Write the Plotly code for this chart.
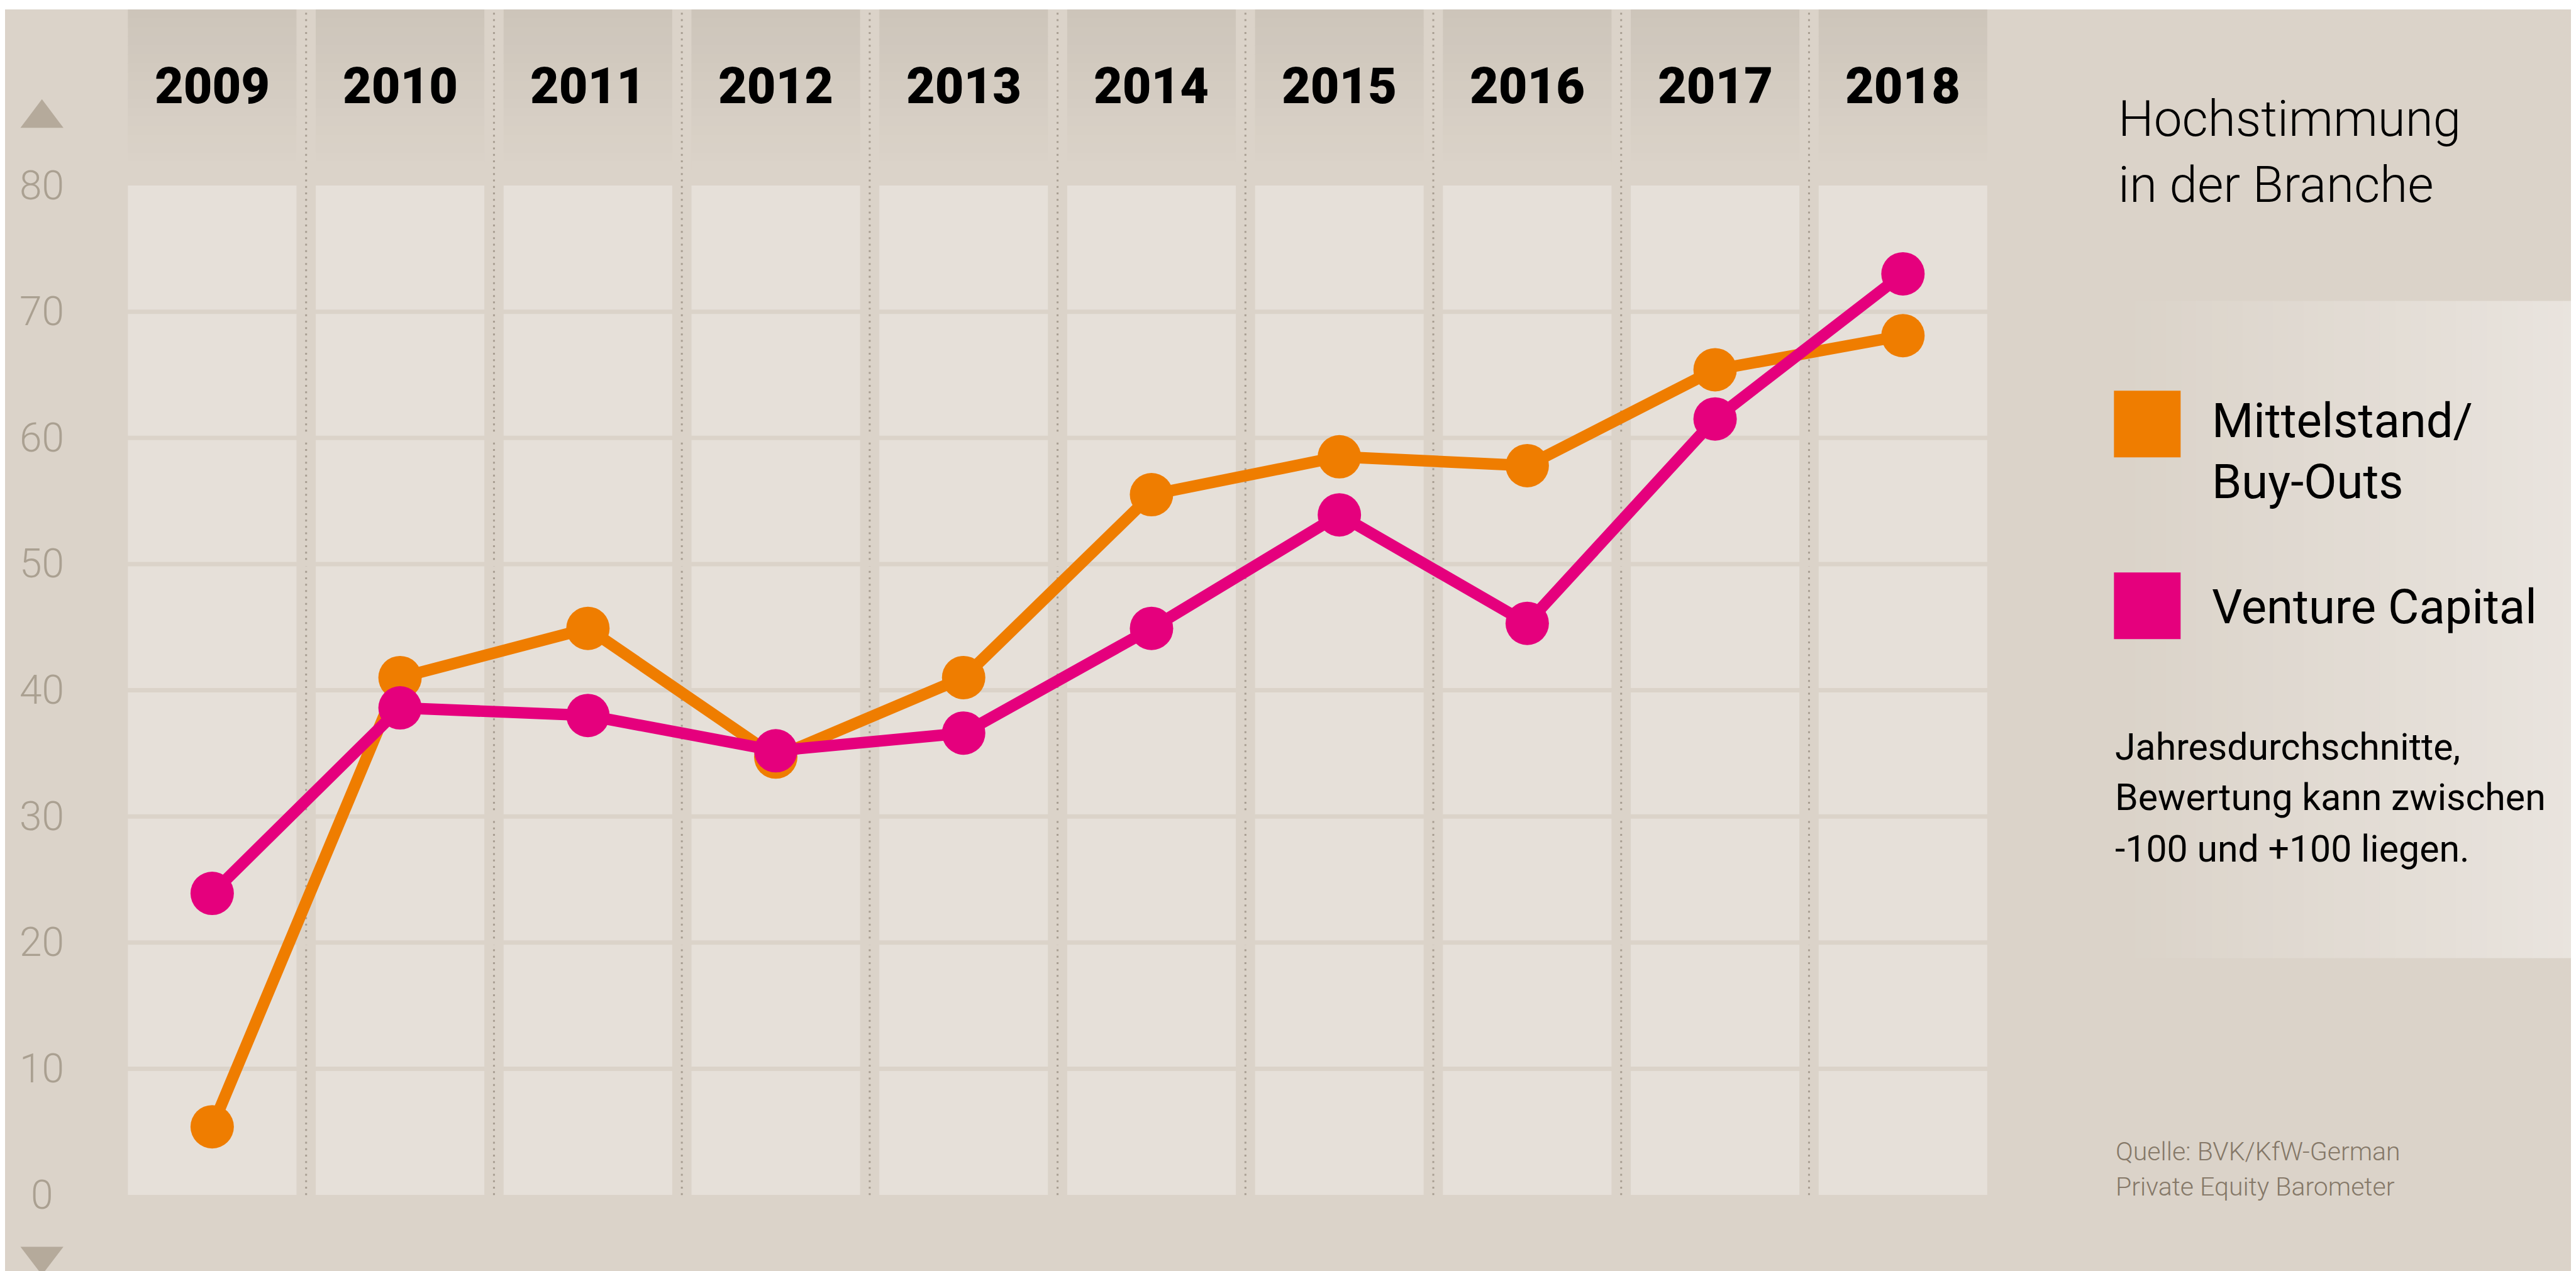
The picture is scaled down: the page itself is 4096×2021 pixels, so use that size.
import plotly.graph_objects as go

# ---------------- data ----------------
years = [2009, 2010, 2011, 2012, 2013, 2014, 2015, 2016, 2017, 2018]
mittelstand = [5.4, 41.0, 44.9, 34.7, 41.0, 55.5, 58.5, 57.8, 65.4, 68.1]
venture = [23.9, 38.6, 38.0, 35.2, 36.6, 44.9, 53.9, 45.3, 61.5, 73.0]
y_ticks = [0, 10, 20, 30, 40, 50, 60, 70, 80]
title_lines = ["Hochstimmung", "in der Branche"]
legend_lines = ["Mittelstand/", "Buy-Outs", "Venture Capital"]
note_lines = ["Jahresdurchschnitte,", "Bewertung kann zwischen", "-100 und +100 liegen."]
source_lines = ["Quelle: BVK/KfW-German", "Private Equity Barometer"]

# ---------------- geometry ----------------
S = 0.876
FW, FH = 4096, 2021
L, R, T, B = 195, 943, 287, 129
W = FW - L - R
H = FH - T - B

BG = "#dbd3c9"
CELL = "#e6e0d9"
ORANGE = "#ef7d00"
PINK = "#e5007d"
DOT = "#a89e92"

pitch = 341 * S
x0 = years[0] - (376 * S - L) / pitch
x1 = x0 + W / pitch
half = 0.4487


def px(xf):
    return (xf * S - L) / W


def py(yf):
    return 1 - (yf * S - T) / H


def hexmix(c1, c2, t):
    a = [int(c1[i:i + 2], 16) for i in (1, 3, 5)]
    b = [int(c2[i:i + 2], 16) for i in (1, 3, 5)]
    return "#" + "".join("%02x" % round(a[k] + (b[k] - a[k]) * t) for k in range(3))


shapes = []
# white strip at the top
shapes.append(dict(type="rect", xref="paper", yref="paper", x0=px(0), x1=px(4671),
                   y0=py(0), y1=py(8), fillcolor="white", line_width=0, layer="below"))

# header column gradients
n_steps = 18
hy0, hy1 = 8, 300
for yr in years:
    for k in range(n_steps):
        ya = hy0 + (hy1 - hy0) * k / n_steps
        yb = hy0 + (hy1 - hy0) * (k + 1) / n_steps + 1
        shapes.append(dict(type="rect", xref="x", yref="paper", x0=yr - half, x1=yr + half,
                           y0=py(yb), y1=py(ya),
                           fillcolor=hexmix("#cdc5ba", BG, k / (n_steps - 1)),
                           line_width=0, layer="below"))

# dotted separators
for yr in years[:-1]:
    shapes.append(dict(type="line", xref="x", yref="paper", x0=yr + 0.5, x1=yr + 0.5,
                       y0=py(2160), y1=py(10),
                       line=dict(color=DOT, width=3, dash="3px,7.2px"), layer="below"))

# plot cells
for yr in years:
    shapes.append(dict(type="rect", xref="x", yref="y", x0=yr - half, x1=yr + half,
                       y0=y_ticks[0], y1=y_ticks[-1], fillcolor=CELL, line_width=0, layer="below"))

# horizontal grid lines (background coloured)
for v in y_ticks[1:-1]:
    shapes.append(dict(type="line", xref="x", yref="y", x0=x0, x1=x1, y0=v, y1=v,
                       line=dict(color=BG, width=7), layer="below"))

# right panel gradient box
n_g = 30
gx0, gx1 = 3839, 4671
for k in range(n_g):
    xa = gx0 + (gx1 - gx0) * k / n_g
    xb = gx0 + (gx1 - gx0) * (k + 1) / n_g + 1
    shapes.append(dict(type="rect", xref="paper", yref="paper", x0=px(xa), x1=px(xb),
                       y0=py(1730), y1=py(537),
                       fillcolor=hexmix(BG, "#e9e4de", k / (n_g - 1)),
                       line_width=0, layer="below"))

# arrows (triangles) on y-axis
TRI = "#b5aa9b"


def tri(pts):
    d = "M " + " L ".join("%f,%f" % (px(a), py(b)) for a, b in pts) + " Z"
    return dict(type="path", xref="paper", yref="paper", path=d, fillcolor=TRI,
                line_width=0, layer="below")


shapes.append(tri([(28, 223), (106, 223), (67, 171)]))
shapes.append(tri([(28, 2254), (106, 2254), (67, 2305)]))

# legend squares
shapes.append(dict(type="rect", xref="paper", yref="paper", x0=px(3828), x1=px(3949),
                   y0=py(821), y1=py(700), fillcolor=ORANGE, line_width=0))
shapes.append(dict(type="rect", xref="paper", yref="paper", x0=px(3828), x1=px(3949),
                   y0=py(1151), y1=py(1030), fillcolor=PINK, line_width=0))

annotations = []
# year labels
for yr in years:
    annotations.append(dict(x=yr, y=py(147), xref="x", yref="paper", text=str(yr),
                            showarrow=False, xanchor="center", yanchor="middle",
                            font=dict(family="Roboto", size=79, color="#000000", weight=900)))
# y tick labels
for v in y_ticks:
    annotations.append(dict(x=px(67), y=v, xref="paper", yref="y", text=str(v),
                            showarrow=False, xanchor="center", yanchor="middle",
                            font=dict(family="Roboto", size=64, color="#aaa091", weight=300)))
# title
for line, yc in zip(title_lines, [207, 326]):
    annotations.append(dict(x=px(3833), y=py(yc), xref="paper", yref="paper", text=line,
                            showarrow=False, xanchor="left", yanchor="middle",
                            font=dict(family="Roboto", size=80, color="#000000", weight=300)))
# legend texts
for line, yc in zip(legend_lines, [755, 865, 1092]):
    annotations.append(dict(x=px(4003), y=py(yc), xref="paper", yref="paper", text=line,
                            showarrow=False, xanchor="left", yanchor="middle",
                            font=dict(family="Roboto", size=76, color="#000000")))
# note
for line, yc in zip(note_lines, [1346, 1438, 1531]):
    annotations.append(dict(x=px(3828), y=py(yc), xref="paper", yref="paper", text=line,
                            showarrow=False, xanchor="left", yanchor="middle",
                            font=dict(family="Roboto", size=59, color="#000000")))
# source
for line, yc in zip(source_lines, [2081, 2145]):
    annotations.append(dict(x=px(3829), y=py(yc), xref="paper", yref="paper", text=line,
                            showarrow=False, xanchor="left", yanchor="middle",
                            font=dict(family="Roboto", size=41, color="#857868", weight=300)))

fig = go.Figure()
fig.add_trace(go.Scatter(x=years, y=mittelstand, name="Mittelstand/Buy-Outs",
                         mode="lines+markers", line=dict(color=ORANGE, width=18.4),
                         marker=dict(color=ORANGE, size=69), cliponaxis=False,
                         hoverinfo="skip"))
fig.add_trace(go.Scatter(x=years, y=venture, name="Venture Capital",
                         mode="lines+markers", line=dict(color=PINK, width=18.4),
                         marker=dict(color=PINK, size=69), cliponaxis=False,
                         hoverinfo="skip"))

fig.update_layout(
    width=FW, height=FH,
    margin=dict(l=L, r=R, t=T, b=B, pad=0),
    paper_bgcolor=BG, plot_bgcolor=BG,
    showlegend=False,
    shapes=shapes,
    annotations=annotations,
    xaxis=dict(range=[x0, x1], visible=False, fixedrange=True),
    yaxis=dict(range=[y_ticks[0], y_ticks[-1]], visible=False, fixedrange=True),
    font=dict(family="Roboto"),
)

fig.write_html("out.html")
